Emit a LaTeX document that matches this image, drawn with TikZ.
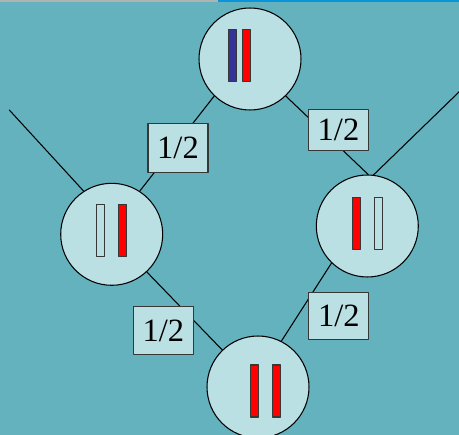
\documentclass[tikz,border=0pt]{standalone}
\usepackage{fontspec}
\setmainfont{Liberation Serif}
\definecolor{sea}{RGB}{99,178,189}
\definecolor{pale}{RGB}{187,224,228}
\definecolor{chromblue}{RGB}{51,51,153}
\definecolor{edge}{RGB}{55,55,55}
\begin{document}
\begin{tikzpicture}[x=0.02cm, y=-0.02cm, line join=round, line cap=round, line width=0.6pt,
	cell/.style={circle, draw=black, fill=pale, minimum size=2.04cm, inner sep=0pt},
	bar/.style={draw=edge, minimum width=0.16cm, minimum height=1.04cm, inner sep=0pt},
	frac/.style={draw=edge, fill=pale, minimum width=1.2cm, inner sep=0pt, font=\fontsize{18.5}{21}\selectfont}]
	% nền
	\fill[sea] (0,0) rectangle (459,435);
	\useasboundingbox (0,0) rectangle (459,435);
	\fill[gray!60] (0,0) rectangle (218,2);
	\fill[cyan!80!blue] (218,0) rectangle (459,2);
	% các tế bào
	\node[cell] (top) at (250,59) {};
	\node[cell] (left) at (111.7,234.3) {};
	\node[cell] (right) at (367.3,226) {};
	\node[cell] (bottom) at (258,387) {};
	\coordinate (leftEnd) at (9.3,110);
	\coordinate (rightEnd) at (460,91);
	% các đường nối
	\draw (leftEnd)--(left.123);
	\draw (rightEnd)--(right.83);
	\draw (top.226)--(left.57);
	\draw (top.314)--(right.89);
	\draw (left.313)--(bottom.134);
	\draw (right.226)--(bottom.63);
	% nhiễm sắc thể
	\node[bar, fill=chromblue] (topA) at (232.2,55.5) {};
	\node[bar, fill=red] (topB) at (246.7,55.5) {};
	\node[bar, fill=pale] (leftA) at (100.8,230.5) {};
	\node[bar, fill=red] (leftB) at (122.8,230.5) {};
	\node[bar, fill=red] (rightA) at (356.2,223.3) {};
	\node[bar, fill=pale] (rightB) at (378.3,223.3) {};
	\node[bar, fill=red] (bottomA) at (254.3,391) {};
	\node[bar, fill=red] (bottomB) at (276.2,391) {};
	% xác suất
	\node[frac, minimum height=0.98cm] (pTL) at (178,148.3) {1/2};
	\node[frac, minimum height=0.82cm] (pTR) at (338.5,129.7) {1/2};
	\node[frac, minimum height=0.96cm] (pBL) at (163.3,330.7) {1/2};
	\node[frac, minimum height=0.94cm] (pBR) at (338.8,316.3) {1/2};
\end{tikzpicture}
\end{document}
